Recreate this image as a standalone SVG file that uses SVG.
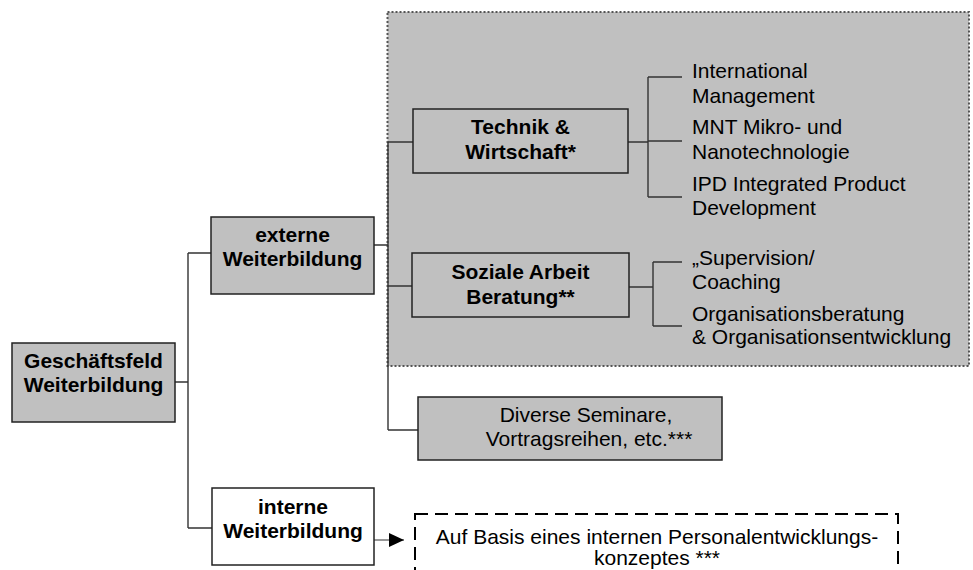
<svg xmlns="http://www.w3.org/2000/svg" width="973" height="570" viewBox="0 0 973 570">
<style>
text{font-family:"Liberation Sans",Arial,sans-serif;font-size:21px;fill:#000}
.b{font-weight:bold;text-anchor:middle}
.c{text-anchor:middle}
.box{fill:#c0c0c0;stroke:#222;stroke-width:1.5}
.wbox{fill:#fff;stroke:#222;stroke-width:1.5}
.ln{stroke:#333;stroke-width:1.4;fill:none}
</style>
<defs>
<marker id="ah" markerWidth="16" markerHeight="14" refX="15" refY="7" orient="auto" markerUnits="userSpaceOnUse">
<path d="M0,0 L15,7 L0,14 Z" fill="#000"/>
</marker>
</defs>
<rect id="area" x="387.5" y="12" width="581.5" height="354" fill="#c0c0c0" stroke="#555" stroke-width="2" stroke-dasharray="2,2"/>
<g id="connectors">
<path class="ln" d="M175,382 H188 M188,253 V528 M188,253 H211 M188,528 H212"/>
<path class="ln" d="M374,245 H388 M388,142 V430 M388,142 H413 M388,286 H412 M388,430 H418"/>
<path class="ln" d="M628,142 H648 M648,77 V197 M648,77 H682 M648,141 H682 M648,197 H682"/>
<path class="ln" d="M629,287 H653 M653,262 V326 M653,262 H682 M653,326 H682"/>
<path d="M371,540 H404" stroke="#333" stroke-width="1.2" fill="none" marker-end="url(#ah)"/>
</g>
<g id="n-geschaeftsfeld">
<rect class="box" x="12" y="343" width="163" height="79"/>
<text class="b" x="93.5" y="368">Geschäftsfeld</text>
<text class="b" x="93.5" y="392">Weiterbildung</text>
</g>
<g id="n-externe">
<rect class="box" x="211" y="217" width="163" height="77"/>
<text class="b" x="292.5" y="242">externe</text>
<text class="b" x="292.5" y="266">Weiterbildung</text>
</g>
<g id="n-technik">
<rect class="box" x="413" y="109" width="215" height="64"/>
<text class="b" x="520.5" y="134">Technik &amp;</text>
<text class="b" x="520.5" y="159">Wirtschaft*</text>
</g>
<g id="n-soziale">
<rect class="box" x="412" y="253" width="217" height="64"/>
<text class="b" x="520.5" y="279">Soziale Arbeit</text>
<text class="b" x="520.5" y="304">Beratung**</text>
</g>
<g id="n-technik-items">
<text x="692" y="78">International</text>
<text x="692" y="103">Management</text>
<text x="692" y="134">MNT Mikro- und</text>
<text x="692" y="159">Nanotechnologie</text>
<text x="692" y="191">IPD Integrated Product</text>
<text x="692" y="215">Development</text>
</g>
<g id="n-soziale-items">
<text x="692" y="265">„Supervision/</text>
<text x="692" y="289">Coaching</text>
<text x="692" y="321">Organisationsberatung</text>
<text x="692" y="344">&amp; Organisationsentwicklung</text>
</g>
<g id="n-diverse">
<rect class="box" x="418" y="397" width="304" height="63"/>
<text class="c" x="586" y="422">Diverse Seminare,</text>
<text class="c" x="589" y="446">Vortragsreihen, etc.***</text>
</g>
<g id="n-interne">
<rect class="wbox" x="212" y="488" width="162" height="77"/>
<text class="b" x="293" y="514">interne</text>
<text class="b" x="293" y="538">Weiterbildung</text>
</g>
<g id="n-basis">
<rect x="415" y="514" width="483" height="70" fill="#fff" stroke="#000" stroke-width="2" stroke-dasharray="13,7"/>
<text class="c" x="657" y="544">Auf Basis eines internen Personalentwicklungs-</text>
<text class="c" x="657" y="565">konzeptes ***</text>
</g>
</svg>
